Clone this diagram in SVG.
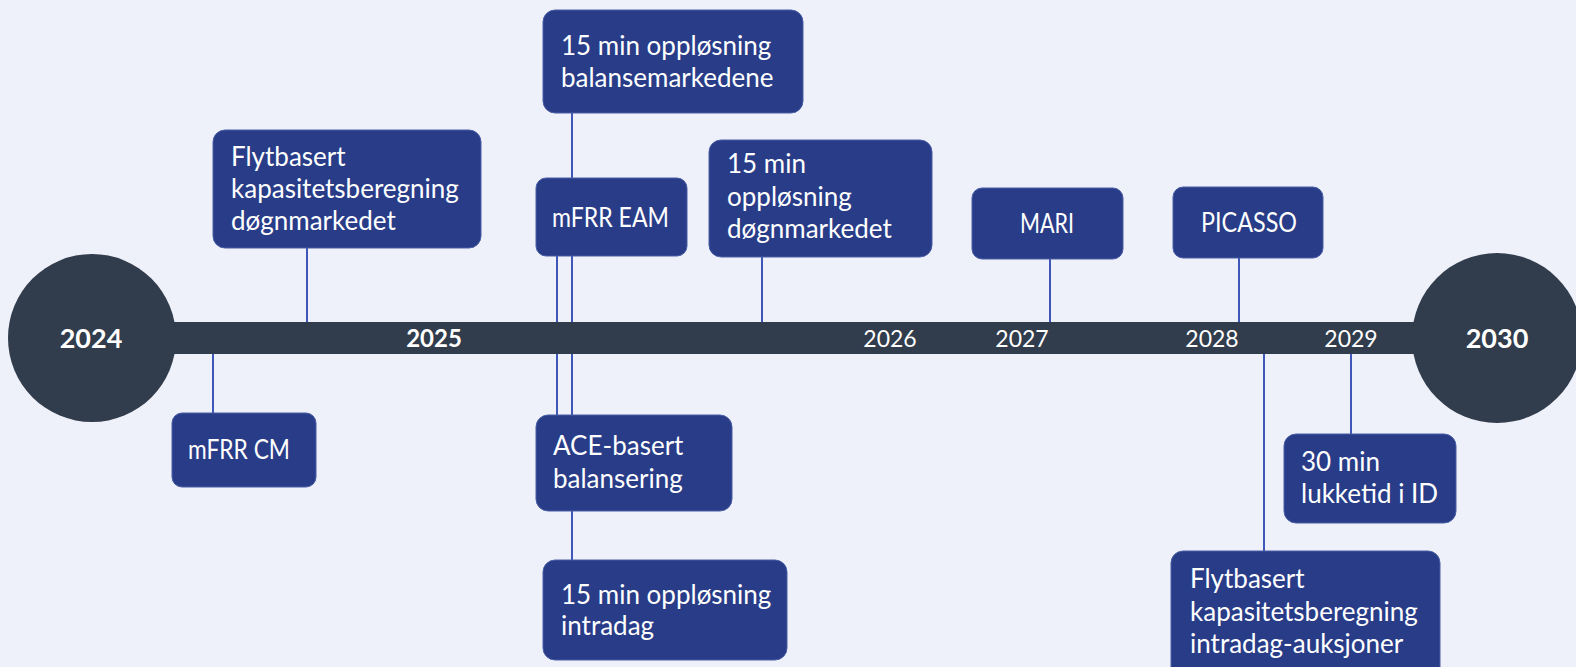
<svg xmlns="http://www.w3.org/2000/svg" width="1576" height="667" viewBox="0 0 1576 667">
<style>
.box{fill:#283C88;stroke:#4B5FA6;stroke-width:1}
.t{font-family:Lato,"Liberation Sans",sans-serif;font-size:26px;fill:#FFFFFF}
.yr{font-family:Lato,"Liberation Sans",sans-serif;font-size:23px;fill:#FFFFFF;text-anchor:middle}
.yb{font-family:Lato,"Liberation Sans",sans-serif;font-weight:bold;font-size:27px;fill:#FFFFFF;text-anchor:middle}
.c{stroke:#3F57B8;stroke-width:2;fill:none}
</style>
<rect x="0" y="0" width="1576" height="667" fill="#EEF1FA"/>
<g id="timeline">
<rect x="92" y="322" width="1405" height="32" fill="#313C4C"/>
<circle cx="92" cy="338" r="84" fill="#313C4C"/>
<circle cx="1497" cy="338" r="85" fill="#313C4C"/>
<text class="yb" x="91" y="348">2024</text>
<text class="yb" x="434" y="347" style="font-size:24px">2025</text>
<text class="yr" x="890" y="347">2026</text>
<text class="yr" x="1022" y="347">2027</text>
<text class="yr" x="1212" y="347">2028</text>
<text class="yr" x="1351" y="347">2029</text>
<text class="yb" x="1497" y="348">2030</text>
</g>
<g id="connectors">
<line class="c" x1="307" y1="248" x2="307" y2="322"/>
<line class="c" x1="213" y1="354" x2="213" y2="413"/>
<line class="c" x1="572" y1="113" x2="572" y2="178"/>
<line class="c" x1="557" y1="256" x2="557" y2="322"/>
<line class="c" x1="572" y1="256" x2="572" y2="322"/>
<line class="c" x1="557" y1="354" x2="557" y2="415"/>
<line class="c" x1="572" y1="354" x2="572" y2="415"/>
<line class="c" x1="572" y1="511" x2="572" y2="560"/>
<line class="c" x1="762" y1="257" x2="762" y2="322"/>
<line class="c" x1="1050" y1="259" x2="1050" y2="322"/>
<line class="c" x1="1239" y1="258" x2="1239" y2="322"/>
<line class="c" x1="1351" y1="354" x2="1351" y2="434"/>
<line class="c" x1="1264" y1="354" x2="1264" y2="551"/>
</g>
<g id="n1">
<rect class="box" x="213" y="130" width="268" height="118" rx="12"/>
<text class="t" x="231" y="166">Flytbasert</text>
<text class="t" x="231" y="198">kapasitetsberegning</text>
<text class="t" x="231" y="230">døgnmarkedet</text>
</g>
<g id="n2">
<rect class="box" x="172" y="413" width="144" height="74" rx="10"/>
<text class="t" x="188" y="459" textLength="102" lengthAdjust="spacingAndGlyphs">mFRR CM</text>
</g>
<g id="n3">
<rect class="box" x="543" y="10" width="260" height="103" rx="12"/>
<text class="t" x="561" y="55">15 min oppløsning</text>
<text class="t" x="561" y="87">balansemarkedene</text>
</g>
<g id="n4">
<rect class="box" x="536" y="178" width="151" height="78" rx="10"/>
<text class="t" x="552" y="227" textLength="117" lengthAdjust="spacingAndGlyphs">mFRR EAM</text>
</g>
<g id="n5">
<rect class="box" x="709" y="140" width="223" height="117" rx="12"/>
<text class="t" x="727" y="173">15 min</text>
<text class="t" x="727" y="206">oppløsning</text>
<text class="t" x="727" y="238">døgnmarkedet</text>
</g>
<g id="n6">
<rect class="box" x="972" y="188" width="151" height="71" rx="10"/>
<text class="t" x="1020" y="233" textLength="54" lengthAdjust="spacingAndGlyphs">MARI</text>
</g>
<g id="n7">
<rect class="box" x="1173" y="187" width="150" height="71" rx="10"/>
<text class="t" x="1201" y="232" textLength="96" lengthAdjust="spacingAndGlyphs">PICASSO</text>
</g>
<g id="n8">
<rect class="box" x="536" y="415" width="196" height="96" rx="12"/>
<text class="t" x="553" y="455">ACE-basert</text>
<text class="t" x="553" y="488">balansering</text>
</g>
<g id="n9">
<rect class="box" x="543" y="560" width="244" height="100" rx="12"/>
<text class="t" x="561" y="604">15 min oppløsning</text>
<text class="t" x="561" y="635">intradag</text>
</g>
<g id="n10">
<rect class="box" x="1284" y="434" width="172" height="89" rx="12"/>
<text class="t" x="1301" y="471">30 min</text>
<text class="t" x="1301" y="503">lukketid i ID</text>
</g>
<g id="n11">
<rect class="box" x="1171" y="551" width="269" height="130" rx="12"/>
<text class="t" x="1190" y="588">Flytbasert</text>
<text class="t" x="1190" y="621">kapasitetsberegning</text>
<text class="t" x="1190" y="653">intradag-auksjoner</text>
</g>
</svg>
